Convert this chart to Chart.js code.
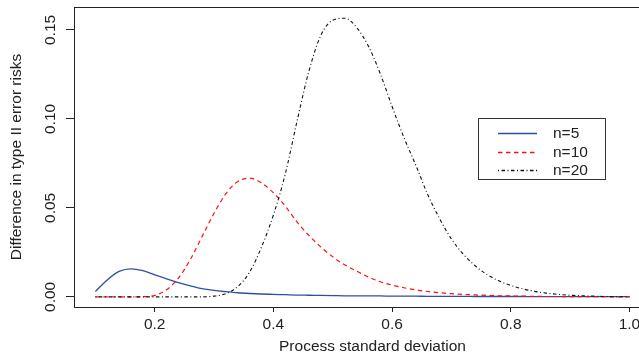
<!DOCTYPE html>
<html><head><meta charset="utf-8">
<script src="https://cdn.jsdelivr.net/npm/chart.js@4/dist/chart.umd.min.js"></script>
<style>html,body{margin:0;padding:0;overflow:hidden;background:#fff}#wrap{width:690px;height:359px}</style>
</head><body><div id="wrap"><canvas id="c" width="690" height="359"></canvas></div>
<script>
// Process standard deviation (x)
const sigma = [0.10,0.12,0.14,0.16,0.18,0.20,0.22,0.24,0.26,0.28,0.30,0.32,0.34,0.36,0.38,0.40,0.42,0.44,0.46,0.48,0.50,0.52,0.54,0.56,0.58,0.60,0.62,0.64,0.66,0.68,0.70,0.72,0.74,0.76,0.78,0.80,0.82,0.84,0.86,0.88,0.90,0.92,0.94,0.96,0.98,1.00];
// Difference in type II error risks
const diffN5 = [0.0030,0.0095,0.0143,0.0157,0.0147,0.0124,0.0101,0.0080,0.0062,0.0046,0.0036,0.0029,0.0023,0.0019,0.0016,0.0014,0.0012,0.0010,0.0009,0.0008,0.0007,0.0006,0.0006,0.0005,0.0005,0.0004,0.0004,0.0004,0.0003,0.0003,0.0003,0.0003,0.0002,0.0002,0.0002,0.0002,0.0002,0.0001,0.0001,0.0001,0.0001,0.0001,0.0001,0.0001,0.0001,0.0001];
const diffN10 = [0,0,0,0,0.0001,0.0008,0.0040,0.0105,0.0210,0.0340,0.0470,0.0580,0.0648,0.0667,0.0640,0.0585,0.0510,0.0420,0.0345,0.0280,0.0225,0.0180,0.0145,0.0112,0.0085,0.0066,0.0051,0.0039,0.0030,0.0023,0.0018,0.0014,0.0011,0.0008,0.0006,0.0005,0.0004,0.0003,0.0002,0.0002,0.0001,0.0001,0.0001,0.0001,0,0];
const diffN20 = [0,0,0,0,0,0,0,0,0,0,0.0004,0.0018,0.0058,0.0140,0.0280,0.0460,0.0690,0.0990,0.1270,0.1470,0.1555,0.1566,0.1515,0.1410,0.1255,0.1070,0.0895,0.0740,0.0575,0.0440,0.0325,0.0240,0.0175,0.0125,0.0090,0.0064,0.0045,0.0031,0.0021,0.0014,0.0009,0.0006,0.0004,0.0002,0.0001,0.0001];
const seriesNames = ['n=5','n=10','n=20'];
const xTicks = [0.2,0.4,0.6,0.8,1.0];
const yTicks = [0.00,0.05,0.10,0.15];

const FONT = {family:'"Liberation Sans", Arial, Helvetica, sans-serif', size:15.5};
const TXT = '#222';
const STYLES = [
  {color:'#2f4ea6', width:1.3, dash:[]},
  {color:'#ff1010', width:1.2, dash:[4.5,3.5]},
  {color:'#111111', width:1.1, dash:[1,2.5,3.5,2.5]}
];

const frame = {
  id:'frame',
  afterDraw(chart){
    const {ctx, chartArea:a} = chart;
    ctx.save();
    ctx.strokeStyle = '#222'; ctx.lineWidth = 1; ctx.setLineDash([]);
    ctx.strokeRect(Math.round(a.left)+0.5, Math.round(a.top)+0.5, Math.round(a.right-a.left), Math.round(a.bottom-a.top));
    ctx.restore();
  }
};
const boxLegend = {
  id:'boxLegend',
  afterDraw(chart, args, o){
    const ctx = chart.ctx;
    ctx.save();
    ctx.strokeStyle = '#333'; ctx.lineWidth = 1; ctx.setLineDash([]);
    ctx.strokeRect(o.x+0.5, o.y+0.5, o.w, o.h);
    ctx.font = FONT.size + 'px ' + FONT.family;
    ctx.textBaseline = 'middle'; ctx.textAlign = 'left';
    chart.data.datasets.forEach((ds,i)=>{
      const st = STYLES[i];
      const y = Math.round(o.y + o.firstRow + i*o.rowGap) + 0.5;
      ctx.strokeStyle = st.color; ctx.lineWidth = st.width + 0.2;
      ctx.setLineDash(st.dash);
      ctx.beginPath(); ctx.moveTo(o.x+o.lineStart, y); ctx.lineTo(o.x+o.lineEnd, y); ctx.stroke();
      ctx.fillStyle = TXT;
      ctx.fillText(ds.label, o.x+o.textX, y);
    });
    ctx.restore();
  }
};

const mk = arr => sigma.map((s,i)=>({x:s, y:arr[i]}));
const dsOf = (i, arr) => ({label:seriesNames[i], data:mk(arr), borderColor:STYLES[i].color, borderWidth:STYLES[i].width, borderDash:STYLES[i].dash, pointRadius:0, cubicInterpolationMode:'monotone', fill:false, order:3-i});

new Chart(document.getElementById('c'), {
  type:'line',
  data:{ datasets:[ dsOf(0, diffN5), dsOf(1, diffN10), dsOf(2, diffN20) ]},
  options:{
    responsive:false, animation:false, devicePixelRatio:1,
    layout:{padding:{top:7,right:19,bottom:0,left:0}},
    plugins:{ legend:{display:false}, tooltip:{enabled:false},
      boxLegend:{x:478,y:118,w:127,h:61,firstRow:15,rowGap:18.5,lineStart:20,lineEnd:59,textX:75} },
    scales:{
      x:{ type:'linear', min:0.064, max:1.07, bounds:'data',
        afterBuildTicks: s => { s.ticks = xTicks.map(v=>({value:v})); },
        ticks:{ callback: v => Number(v).toFixed(1), minRotation:0, maxRotation:0, autoSkip:false, padding:3, font:FONT, color:TXT },
        grid:{ display:true, drawOnChartArea:false, drawTicks:true, tickLength:5, color:'#222', lineWidth:1 },
        border:{ display:false },
        title:{ display:true, text:'Process standard deviation', font:FONT, color:TXT, padding:{top:0,bottom:3} },
        afterFit: s => { s.height = 52; s.paddingLeft = 0; s.paddingRight = 0; }
      },
      y:{ type:'linear', min:-0.0057, max:0.1629, bounds:'data',
        afterBuildTicks: s => { s.ticks = yTicks.map(v=>({value:v})); },
        ticks:{ callback: v => Number(v).toFixed(2), minRotation:90, maxRotation:90, crossAlign:'center', padding:0, font:FONT, color:TXT },
        grid:{ display:true, drawOnChartArea:false, drawTicks:true, tickLength:8, color:'#222', lineWidth:1 },
        border:{ display:false },
        title:{ display:true, text:'Difference in type II error risks', font:FONT, color:TXT, padding:{top:7,bottom:0} },
        afterFit: s => { s.width = 74; s.paddingTop = 0; s.paddingBottom = 0; }
      }
    }
  },
  plugins:[frame, boxLegend]
});
</script>
</body></html>
